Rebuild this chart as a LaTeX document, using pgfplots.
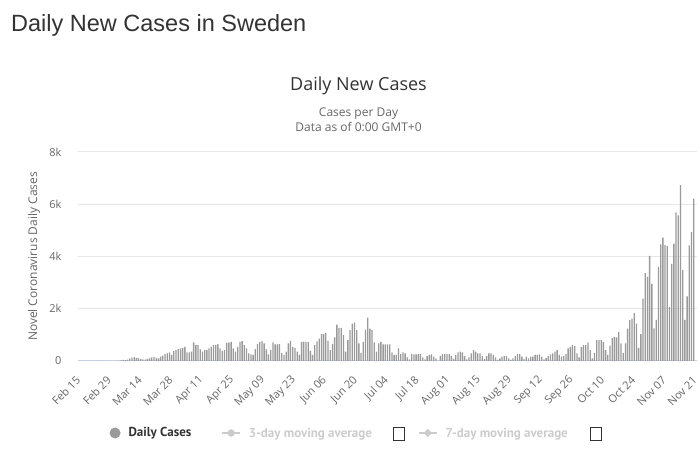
\documentclass[border=0pt]{standalone}
\usepackage{pgfplots}
\pgfplotsset{compat=1.18}
\usepackage{fontspec}
\setmainfont{Open Sans}
\newfontfamily\titlefont{Liberation Sans}
\newfontfamily\legendfont{PT Sans}

\definecolor{txtdark}{HTML}{333333}
\definecolor{txtgray}{HTML}{666666}
\definecolor{gridc}{HTML}{E6E6E6}
\definecolor{axisc}{HTML}{CCD6EB}
\definecolor{barc}{HTML}{9A9A9A}
\definecolor{hiddenc}{HTML}{CCCCCC}

% empty toggle box shown after the moving-average legend entries
\newcommand{\chk}{\raisebox{-2.5pt}{{\color{txtdark}\setlength{\fboxsep}{0pt}\setlength{\fboxrule}{0.8pt}\fbox{\rule{0pt}{11.5pt}\hspace{10.5pt}}}}}

\begin{document}
\begin{tikzpicture}
\useasboundingbox (0pt,0pt) rectangle (700pt,454pt);

% page heading and chart titles
\node[anchor=base west, inner sep=0pt, text=txtdark,
      font=\titlefont\fontsize{23.5}{28}\selectfont] at (11pt,422pt) {Daily New Cases in Sweden};
\node[anchor=base, inner sep=0pt, text=txtdark,
      font=\fontsize{18}{22}\selectfont] at (358.5pt,363.5pt) {Daily New Cases};
\node[anchor=base, inner sep=0pt, text=txtgray,
      font=\fontsize{12}{14}\selectfont] at (358.5pt,337pt) {Cases per Day};
\node[anchor=base, inner sep=0pt, text=txtgray,
      font=\fontsize{12}{14}\selectfont] at (358.5pt,322pt) {Data as of 0:00 GMT+0};
\node[rotate=90, anchor=center, inner sep=0pt, text=txtgray,
      font=\fontsize{12}{14}\selectfont] at (34pt,197.5pt) {Novel Coronavirus Daily Cases};

\begin{axis}[
  at={(78pt,93pt)}, anchor=south west,
  scale only axis, width=619pt, height=209pt,
  xmin=-0.5, xmax=280.5, ymin=0, ymax=8000,
  enlargelimits=false,
  ybar, bar width=0.6,
  axis x line*=bottom, axis y line*=left,
  x axis line style={draw=axisc, line width=1pt, -},
  y axis line style={draw=none},
  major tick length=0pt,
  tick style={draw=none},
  ymajorgrids, grid style={draw=gridc, line width=1pt},
  ytick={0,2000,4000,6000,8000},
  yticklabels={0,2k,4k,6k,8k},
  scaled y ticks=false,
  yticklabel style={font=\fontsize{11}{13}\selectfont, text=txtgray, xshift=-13pt},
  xtick={0,14,...,280},
  xticklabels={Feb 15,Feb 29,Mar 14,Mar 28,Apr 11,Apr 25,May 09,May 23,Jun 06,Jun 20,Jul 04,Jul 18,Aug 01,Aug 15,Aug 29,Sep 12,Sep 26,Oct 10,Oct 24,Nov 07,Nov 21},
  xticklabel style={font=\fontsize{11}{13}\selectfont, text=txtgray,
                    xshift=1.5pt, yshift=-15pt, rotate=45, anchor=east},
  legend columns=3,
  legend cell align=left,
  legend style={draw=none, fill=none, inner sep=0pt, outer sep=0pt,
                at={(0.051,-0.3445)}, anchor=west,
                font=\legendfont\bfseries\fontsize{13}{15}\selectfont,
                text=txtdark,
                /tikz/every odd column/.append style={column sep=6pt},
                /tikz/every even column/.append style={column sep=11pt}},
]

% daily new cases, Feb 15 (day 0) onwards
\addplot[fill=barc, draw=none,
  legend image code/.code={\fill[barc] (5.5pt,0pt) circle (5.5pt);}]
coordinates {
(0,0) (1,0) (2,0) (3,0) (4,0) (5,0) (6,0) (7,0) (8,0) (9,0)
(10,0) (11,1) (12,5) (13,1) (14,0) (15,2) (16,1) (17,0) (18,12) (19,20)
(20,40) (21,35) (22,50) (23,100) (24,130) (25,145) (26,120) (27,110) (28,70) (29,60)
(30,55) (31,80) (32,100) (33,140) (34,160) (35,120) (36,100) (37,170) (38,210) (39,260)
(40,290) (41,330) (42,230) (43,380) (44,420) (45,455) (46,480) (47,505) (48,545) (49,330)
(50,330) (51,355) (52,710) (53,610) (54,610) (55,445) (56,355) (57,420) (58,420) (59,480)
(60,545) (61,610) (62,620) (63,635) (64,480) (65,390) (66,420) (67,700) (68,700) (69,735)
(70,480) (71,355) (72,545) (73,735) (74,760) (75,610) (76,480) (77,290) (78,250) (79,230)
(80,455) (81,645) (82,735) (83,760) (84,670) (85,445) (86,255) (87,420) (88,710) (89,635)
(90,635) (91,645) (92,315) (93,230) (94,355) (95,670) (96,770) (97,545) (98,505) (99,355)
(100,230) (101,735) (102,740) (103,735) (104,720) (105,380) (106,230) (107,610) (108,750) (109,860)
(110,1025) (111,1025) (112,1075) (113,770) (114,420) (115,645) (116,900) (117,1390) (118,1270) (119,1270)
(120,990) (121,355) (122,800) (123,1180) (124,1430) (125,1470) (126,1180) (127,670) (128,315) (129,735)
(130,1200) (131,1660) (132,1240) (133,1180) (134,710) (135,355) (136,670) (137,735) (138,640) (139,635)
(140,635) (141,635) (142,330) (143,230) (144,230) (145,480) (146,265) (147,330) (148,290) (149,140)
(150,65) (151,265) (152,255) (153,255) (154,260) (155,265) (156,140) (157,65) (158,190) (159,230)
(160,255) (161,165) (162,100) (163,0) (164,200) (165,265) (166,265) (167,265) (168,265) (169,190)
(170,75) (171,230) (172,330) (173,355) (174,330) (175,190) (176,65) (177,140) (178,290) (179,420)
(180,355) (181,290) (182,290) (183,190) (184,75) (185,190) (186,290) (187,290) (188,230) (189,140)
(190,40) (191,100) (192,165) (193,190) (194,190) (195,100) (196,40) (197,100) (198,190) (199,265)
(200,265) (201,165) (202,75) (203,165) (204,100) (205,165) (206,165) (207,230) (208,230) (209,255)
(210,165) (211,65) (212,120) (213,190) (214,255) (215,290) (216,355) (217,420) (218,230) (219,165)
(220,200) (221,265) (222,480) (223,545) (224,610) (225,570) (226,290) (227,140) (228,545) (229,610)
(230,610) (231,700) (232,420) (233,100) (234,315) (235,800) (236,800) (237,800) (238,735) (239,420)
(240,230) (241,590) (242,880) (243,925) (244,900) (245,1115) (246,670) (247,315) (248,670) (249,1240)
(250,1560) (251,1620) (252,1840) (253,1430) (254,500) (255,1030) (256,2390) (257,3360) (258,3220) (259,4020)
(260,2950) (261,1250) (262,1570) (263,3600) (264,4460) (265,4720) (266,4440) (267,4400) (268,2070) (269,3720)
(270,4490) (271,5690) (272,5570) (273,6730) (274,3480) (275,1570) (276,2470) (277,4430) (278,4930) (279,6220)
};
\addlegendentry{Daily Cases\rule{17pt}{0pt}}

% moving averages are switched off; only their legend items are shown
\addlegendimage{legend image code/.code={
  \draw[hiddenc, line width=1.5pt] (0pt,0pt) -- (18pt,0pt);
  \fill[hiddenc] (9pt,0pt) circle (3.5pt);}}
\addlegendentry{\textcolor{hiddenc}{3-day moving average}\hspace{21pt}\chk}
\addlegendimage{legend image code/.code={
  \draw[hiddenc, line width=1.5pt] (0pt,0pt) -- (18pt,0pt);
  \fill[hiddenc] (9pt,3.8pt) -- (12.8pt,0pt) -- (9pt,-3.8pt) -- (5.2pt,0pt) -- cycle;}}
\addlegendentry{\textcolor{hiddenc}{7-day moving average}\hspace{22pt}\chk}
\end{axis}
\end{tikzpicture}
\end{document}
